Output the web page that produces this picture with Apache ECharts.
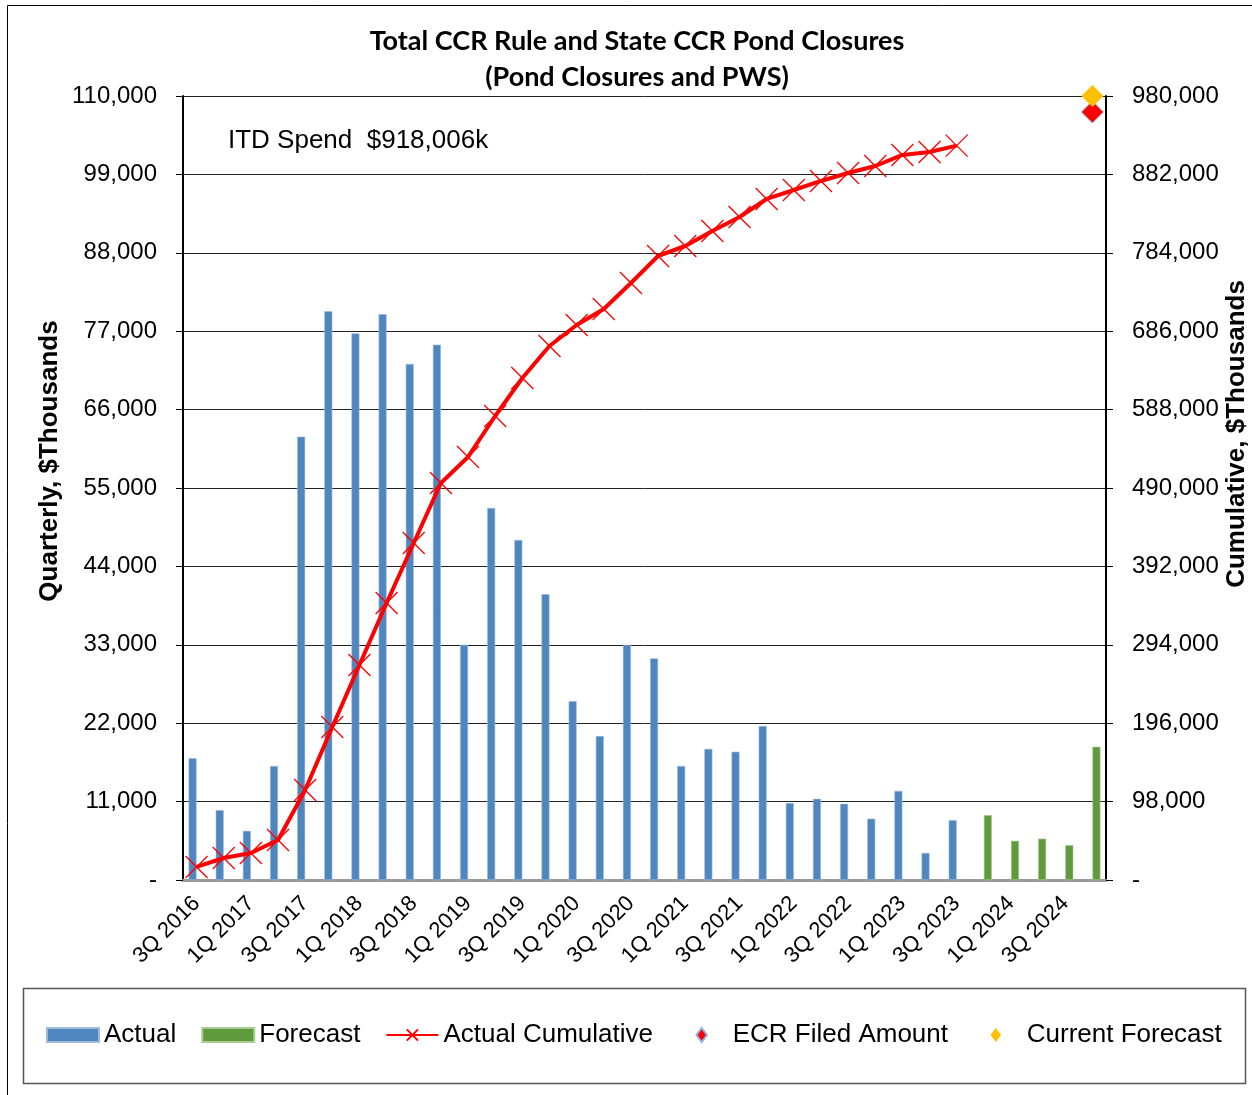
<!DOCTYPE html>
<html lang="en">
  <head>
    <meta charset="UTF-8" />
    <title>Total CCR Rule and State CCR Pond Closures</title>
    <script src="https://cdn.jsdelivr.net/npm/echarts@6/dist/echarts.min.js"></script>
    <style>
      html, body { margin: 0; padding: 0; background: #fff; }
      #chart { width: 1252px; height: 1095px; }
    </style>
  </head>
  <body>
    <div id="chart"></div>
    <script>
      // quarters on the x axis
      const quarters = [
        "3Q 2016", "4Q 2016", "1Q 2017", "2Q 2017", "3Q 2017", "4Q 2017",
        "1Q 2018", "2Q 2018", "3Q 2018", "4Q 2018", "1Q 2019", "2Q 2019",
        "3Q 2019", "4Q 2019", "1Q 2020", "2Q 2020", "3Q 2020", "4Q 2020",
        "1Q 2021", "2Q 2021", "3Q 2021", "4Q 2021", "1Q 2022", "2Q 2022",
        "3Q 2022", "4Q 2022", "1Q 2023", "2Q 2023", "3Q 2023", "4Q 2023",
        "1Q 2024", "2Q 2024", "3Q 2024", "4Q 2024"
      ];
      // quarterly actual spend, 3Q 2016 .. 3Q 2023
      const actual = [
        17100, 9800, 6900, 16000, 62200, 79800, 76700, 79400, 72400, 75100,
        33000, 52200, 47700, 40100, 25100, 20200, 33000, 31100, 16000, 18400,
        18000, 21600, 10800, 11400, 10700, 8600, 12500, 3800, 8400
      ];
      // quarterly forecast, 4Q 2023 .. 4Q 2024
      const forecast = [9100, 5500, 5800, 4900, 18700];
      // actual cumulative (right axis)
      const cumulative = [
        16300, 27500, 33800, 50000, 112500, 191300, 268800, 346300, 421300,
        496300, 528800, 580000, 627500, 667500, 693800, 713800, 746300,
        780000, 792500, 811300, 828800, 851300, 862500, 873800, 883800,
        892500, 906300, 910000, 918006
      ];
      const ecrFiled = 960000;
      const currentForecast = 980000;
      const itdSpend = "$918,006k";

      const FONT = "Liberation Sans, Arial, sans-serif";
      const fmt = (v) => (v === 0 ? "-" : v.toLocaleString("en-US"));
      // narrow diamond centred in the 52px legend slot
      const legendDiamond = "path://M0,0M52,14M26,-1L32,7L26,15L20,7Z";

      const actualData = quarters.map((q, i) => (i < actual.length ? actual[i] : "-"));
      const forecastData = quarters.map((q, i) => {
        const k = i - (quarters.length - forecast.length);
        return k >= 0 ? forecast[k] : "-";
      });
      const lastQ = quarters[quarters.length - 1];

      var chart = echarts.init(document.getElementById("chart"));
      var option = {
        animation: false,
        title: {
          text: "Total CCR Rule and State CCR Pond Closures\n(Pond Closures and PWS)",
          left: 637,
          top: 23,
          padding: 0,
          textAlign: "center",
          textStyle: {
            fontFamily: "Lato, sans-serif",
            fontWeight: "bold",
            fontSize: 27,
            lineHeight: 36,
            color: "#000",
          },
        },
        grid: { left: 183, right: 146, top: 96, bottom: 215 },
        legend: {
          left: 46,
          top: 1020,
          padding: 0,
          itemWidth: 52,
          itemHeight: 14,
          itemGap: 25,
          textStyle: { fontFamily: FONT, fontSize: 26, color: "#000", lineHeight: 30 },
          data: [
            { name: "Actual", icon: "rect" },
            { name: "Forecast", icon: "rect" },
            "Actual Cumulative",
            { name: "ECR Filed Amount", icon: legendDiamond },
            { name: "Current Forecast", icon: legendDiamond },
          ],
        },
        xAxis: [
          {
            type: "category",
            data: quarters,
            boundaryGap: true,
            axisLine: { lineStyle: { color: "#666", width: 2 } },
            axisTick: { interval: 0, length: 7, lineStyle: { color: "#333", width: 1 } },
            axisLabel: {
              interval: 1,
              rotate: 45,
              margin: 20,
              fontFamily: FONT,
              fontSize: 22,
              color: "#000",
            },
            splitLine: { show: false },
          },
          {
            // gray border across the top of the plot
            type: "category",
            data: quarters,
            position: "top",
            axisLine: { lineStyle: { color: "#999", width: 3 } },
            axisTick: { show: false },
            axisLabel: { show: false },
          },
        ],
        yAxis: [
          {
            type: "value",
            min: 0,
            max: 110000,
            interval: 11000,
            axisLine: { show: true, lineStyle: { color: "#000", width: 2 } },
            axisTick: { show: true, length: 7, lineStyle: { color: "#000" } },
            axisLabel: {
              margin: 26,
              fontFamily: FONT,
              fontSize: 24,
              color: "#000",
              formatter: fmt,
            },
            splitLine: { lineStyle: { color: "#222", width: 1 } },
          },
          {
            type: "value",
            min: 0,
            max: 980000,
            interval: 98000,
            position: "right",
            axisLine: { show: true, lineStyle: { color: "#000", width: 2 } },
            axisTick: { show: true, length: 7, lineStyle: { color: "#000" } },
            axisLabel: {
              margin: 26,
              fontFamily: FONT,
              fontSize: 24,
              color: "#000",
              formatter: fmt,
            },
            splitLine: { show: false },
          },
        ],
        series: [
          {
            name: "Actual",
            type: "bar",
            data: actualData,
            barWidth: 8,
            barGap: "0%",
            itemStyle: { color: "#4F86BE", borderColor: "#9DBBDD", borderWidth: 0.6 },
          },
          {
            name: "Forecast",
            type: "bar",
            data: forecastData,
            barWidth: 8,
            barGap: "0%",
            itemStyle: { color: "#5F9A3C", borderColor: "#A9CC92", borderWidth: 0.6 },
          },
          {
            name: "Actual Cumulative",
            type: "line",
            yAxisIndex: 1,
            data: cumulative,
            symbol: "path://M0,0L10,10M10,0L0,10",
            symbolSize: 22,
            showAllSymbol: true,
            lineStyle: { color: "#FF0000", width: 4 },
            itemStyle: { color: "#FF0000", borderColor: "#FF0000", borderWidth: 1.3 },
            z: 5,
          },
          {
            name: "ECR Filed Amount",
            type: "scatter",
            yAxisIndex: 1,
            data: [[lastQ, ecrFiled]],
            symbol: "diamond",
            symbolSize: 22,
            itemStyle: { color: "#FF0000", borderColor: "#8DB4E2", borderWidth: 1, opacity: 1 },
            z: 6,
          },
          {
            name: "Current Forecast",
            type: "scatter",
            yAxisIndex: 1,
            data: [[lastQ, currentForecast]],
            symbol: "diamond",
            symbolSize: 22,
            itemStyle: { color: "#FFC000", opacity: 1 },
            z: 6,
          },
        ],
        graphic: [
          {
            type: "rect",
            silent: true,
            shape: { x: 7.5, y: 5.5, width: 1300, height: 1200 },
            style: { fill: "none", stroke: "#000", lineWidth: 1 },
          },
          {
            type: "rect",
            silent: true,
            shape: { x: 23.5, y: 988.5, width: 1222, height: 95 },
            style: { fill: "none", stroke: "#555", lineWidth: 1.5 },
          },
          {
            type: "text",
            x: 228,
            y: 141,
            style: {
              text: "ITD Spend  " + itdSpend,
              font: "26px " + FONT,
              fill: "#000",
              textVerticalAlign: "middle",
            },
          },
          {
            type: "text",
            x: 50,
            y: 461,
            rotation: Math.PI / 2,
            style: {
              text: "Quarterly, $Thousands",
              font: "bold 26px " + FONT,
              fill: "#000",
              textAlign: "center",
              textVerticalAlign: "middle",
            },
          },
          {
            type: "text",
            x: 1237,
            y: 434,
            rotation: Math.PI / 2,
            style: {
              text: "Cumulative, $Thousands",
              font: "bold 26px " + FONT,
              fill: "#000",
              textAlign: "center",
              textVerticalAlign: "middle",
            },
          },
        ],
      };

      option && chart.setOption(option);
    </script>
  </body>
</html>
